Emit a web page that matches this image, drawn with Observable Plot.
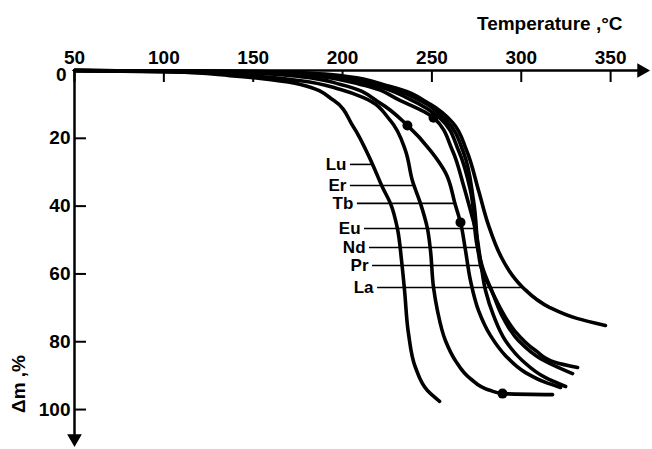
<!DOCTYPE html>
<html><head><meta charset="utf-8">
<script src="https://cdn.jsdelivr.net/npm/d3@7"></script>
<script src="https://cdn.jsdelivr.net/npm/@observablehq/plot@0.6"></script>
<style>
html,body{margin:0;padding:0;background:#fff;}
svg text{font-weight:bold;}
</style>
</head><body><div id="chart"></div>
<script>
// ---- data ----
const series = ["Lu", "Er", "Tb", "Eu", "Nd", "Pr", "La"];

const luT = [50, 100, 137, 160, 176.5, 195, 205.6, 216.8, 222.4, 226.8, 230.7, 233, 234.7, 236.9, 240.8, 247.5, 254.3];
const luM = [0, 0.3, 1.5, 2.7, 4.1, 8.8, 16.2, 27.7, 34.5, 39.2, 46.6, 56, 64.9, 77.6, 87.6, 94.4, 97.6];

const erT = [50, 120.5, 154.1, 176.5, 198.9, 211.7, 226.8, 235.2, 239.1, 243.6, 247.5, 249.2, 250.9, 253.1, 257.6, 263.2, 271.6, 282.8, 289.5, 317.5];
const erM = [0, 0.6, 1.8, 3.0, 5.6, 8.0, 14.8, 23.6, 32.5, 39.2, 46.6, 53.1, 64.0, 70.8, 79.7, 85.6, 90.9, 94.4, 95.3, 95.6];

const tbT = [50, 120.5, 154.1, 176.5, 198.9, 221.2, 236.3, 249.2, 257.6, 263.2, 266.0, 268.8, 271.6, 276.1, 282.8, 291.2, 302.4, 313.6, 322.0];
const tbM = [0, 0.3, 0.9, 1.8, 4.1, 9.7, 16.2, 23.6, 30.1, 39.8, 44.8, 53.1, 62.0, 70.8, 78.2, 84.1, 89.1, 92.0, 93.5];

const euT = [50, 137.3, 176.5, 210.0, 232.4, 250.9, 261.5, 267.7, 271.6, 274.4, 277.2, 280.0, 284.5, 291.2, 300.7, 313.6, 324.8];
const euM = [0, 0.3, 1.2, 4.1, 8.9, 13.9, 23.6, 33.9, 41.3, 46.9, 56.1, 64.9, 72.3, 79.7, 85.6, 90.6, 93.2];

const ndT = [50, 142.9, 182.1, 215.6, 238.0, 254.8, 264.9, 271.6, 275.5, 278.9, 283.9, 290.1, 298.5, 310.8, 328.7];
const ndM = [0, 0.3, 1.2, 4.1, 8.6, 14.2, 23.6, 35.4, 52.2, 59.0, 65.5, 73.2, 79.7, 85.0, 89.4];

const prT = [50, 148.5, 187.7, 221.2, 243.6, 258.2, 267.7, 273.3, 277.2, 282.8, 288.4, 296.2, 308.0, 319.2, 331.5];
const prM = [0, 0.3, 1.2, 4.4, 8.9, 14.8, 24.2, 38.4, 57.5, 64.3, 70.2, 76.7, 82.6, 86.1, 87.6];

const laT = [50, 154.1, 193.3, 226.8, 249.2, 261.5, 269.4, 276.1, 281.7, 288.4, 295.1, 300.9, 316.0, 331.1, 347.1];
const laM = [0, 0.3, 1.2, 4.7, 10.0, 15.3, 23.6, 35.4, 45.7, 54.6, 60.5, 64.0, 69.9, 73.1, 75.2];

// marked points on the curves
const dotT = [236.3, 266.0, 250.9, 289.5];
const dotM = [16.2, 44.8, 13.9, 95.3];

// curve labels: level of the leader line and where the leader starts
const labelM = [27.7, 33.9, 39.2, 46.6, 52.2, 57.5, 64.0];
const labelStartT = [204.4, 204.4, 208.3, 212.3, 215.1, 216.8, 219.6];

const xTicks = [50, 100, 150, 200, 250, 300, 350];
const yTicks = [0, 20, 40, 60, 80, 100];
const xTitle = "Temperature ,°C";
const yTitle = "Δm ,%";

// ---- build tables ----
const curveT = [luT, erT, tbT, euT, ndT, prT, laT];
const curveM = [luM, erM, tbM, euM, ndM, prM, laM];
const rows = [];
series.forEach((s, i) => curveT[i].forEach((t, j) => rows.push({s, T: t, m: curveM[i][j]})));

function tAt(ts, ms, m) {
  for (let j = 1; j < ms.length; j++) {
    if (ms[j] >= m) {
      const f = (m - ms[j - 1]) / (ms[j] - ms[j - 1]);
      return ts[j - 1] + f * (ts[j] - ts[j - 1]);
    }
  }
  return ts[ts.length - 1];
}
const labels = series.map((s, i) => ({s, m: labelM[i], t0: labelStartT[i], t1: tAt(curveT[i], curveM[i], labelM[i])}));
const dots = dotT.map((t, i) => ({T: t, m: dotM[i]}));

const X_END = 371.2, Y_END = 110.6;
const xArrow = X_END - 3.9, yArrow = Y_END - 2.1;

const chart = Plot.plot({
  width: 652, height: 449,
  marginTop: 70, marginLeft: 74, marginRight: 4, marginBottom: 4,
  style: {fontFamily: "Liberation Sans, sans-serif", fontSize: "20px", color: "black", background: "white"},
  x: {domain: [50, X_END], axis: null},
  y: {domain: [0, Y_END], reverse: true, axis: null},
  marks: [
    Plot.ruleY([0], {x1: 50, x2: xArrow, strokeWidth: 2.5}),
    Plot.ruleX([50], {y1: 0, y2: yArrow, strokeWidth: 2.5}),
    Plot.dot([{x: xArrow, y: 0}], {x: "x", y: "y", symbol: "triangle", rotate: 90, r: 4.5, fill: "black", stroke: "black"}),
    Plot.dot([{x: 50, y: yArrow}], {x: "x", y: "y", symbol: "triangle", rotate: 180, r: 4.5, fill: "black", stroke: "black"}),
    Plot.axisX(xTicks, {anchor: "top", tickSize: -11, tickPadding: 18, strokeWidth: 2, fontSize: 19}),
    Plot.axisY(yTicks.slice(1), {anchor: "left", tickSize: -12, tickPadding: 16, strokeWidth: 2, fontSize: 19}),
    Plot.text(["0"], {frameAnchor: "top-left", textAnchor: "end", lineAnchor: "middle", dx: -8, dy: 4, fontSize: 19}),
    Plot.ruleY(labels, {y: "m", x1: "t0", x2: "t1", strokeWidth: 1.6}),
    Plot.text(labels, {x: "t0", y: "m", text: "s", textAnchor: "end", dx: -4, fontSize: 17}),
    Plot.line(rows, {x: "T", y: "m", z: "s", curve: "monotone-y", stroke: "black", strokeWidth: 3.6, strokeLinecap: "round"}),
    Plot.dot(dots, {x: "T", y: "m", r: 5, fill: "black"}),
    Plot.text([xTitle], {frameAnchor: "top-right", textAnchor: "end", lineAnchor: "middle", dx: -26, dy: -47, fontSize: 19}),
    Plot.text([yTitle], {frameAnchor: "left", rotate: -90, textAnchor: "middle", lineAnchor: "middle", dx: -56, dy: 126, fontSize: 19})
  ]
});
document.getElementById("chart").appendChild(chart);
</script>
</body></html>
